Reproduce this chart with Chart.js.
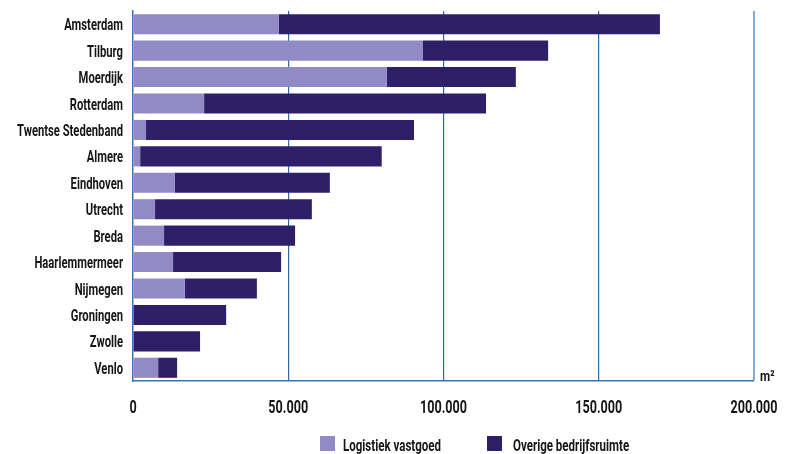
<!DOCTYPE html>
<html lang="nl">
<head>
<meta charset="utf-8">
<title>Bedrijfsruimte per regio</title>
<script src="https://cdn.jsdelivr.net/npm/chart.js@4/dist/chart.umd.min.js"></script>
<style>
  html, body { margin: 0; padding: 0; background: #ffffff; }
  #chart { display: block; }
</style>
</head>
<body>
<canvas id="chart" width="791" height="454"></canvas>
<script>
const categories = ['Amsterdam', 'Tilburg', 'Moerdijk', 'Rotterdam', 'Twentse Stedenband', 'Almere',
  'Eindhoven', 'Utrecht', 'Breda', 'Haarlemmermeer', 'Nijmegen', 'Groningen', 'Zwolle', 'Venlo'];
// m², per regio
const logistiekVastgoed = [47000, 93400, 81700, 22900, 4200, 2300, 13500, 7100, 10000, 12900, 16700, 0, 0, 8100];
const overigeBedrijfsruimte = [122700, 40300, 41600, 90800, 86300, 77800, 49900, 50500, 42200, 34800, 23200, 30000, 21600, 6100];
const xTicks = [0, 50000, 100000, 150000, 200000];
const seriesNames = ['Logistiek vastgoed', 'Overige bedrijfsruimte'];
const seriesColors = ['#918ac4', '#2e1f68'];

const FAMILY = "Roboto, 'DejaVu Sans Condensed', sans-serif";
const INK = '#151515';
const fmt = v => v.toLocaleString('nl-NL');

// Draw condensed text: the font is squeezed horizontally by sx.
function condensedText(ctx, text, x, y, align, sx, font) {
  ctx.save();
  ctx.font = font;
  ctx.fillStyle = INK;
  ctx.textAlign = align;
  ctx.textBaseline = 'alphabetic';
  ctx.scale(sx, 1);
  ctx.fillText(text, x / sx, y);
  ctx.restore();
}

const axisText = {
  id: 'axisText',
  afterDraw(chart) {
    const { ctx, chartArea, scales: { x, y } } = chart;
    // category labels
    categories.forEach((name, i) => {
      condensedText(ctx, name, chartArea.left - 10, y.getPixelForValue(i) + 6, 'right', 0.66, 'bold 17px ' + FAMILY);
    });
    // value ticks
    xTicks.forEach(v => {
      condensedText(ctx, fmt(v), x.getPixelForValue(v), chartArea.bottom + 32, 'center', 0.7, 'bold 18px ' + FAMILY);
    });
    // unit
    condensedText(ctx, 'm²', x.getPixelForValue(200000) + 6, chartArea.bottom, 'left', 0.78, 'bold 15px ' + FAMILY);
    // legend
    const legendX = [320, 487];
    const textX = [343, 513];
    seriesNames.forEach((name, i) => {
      ctx.save();
      ctx.fillStyle = seriesColors[i];
      ctx.fillRect(legendX[i], 436, 15, 15);
      ctx.restore();
      condensedText(ctx, name, textX[i], 451, 'left', 0.72, 'bold 16px ' + FAMILY);
    });
  }
};

new Chart(document.getElementById('chart'), {
  type: 'bar',
  data: {
    labels: categories,
    datasets: [
      { label: seriesNames[0], data: logistiekVastgoed, backgroundColor: seriesColors[0] },
      { label: seriesNames[1], data: overigeBedrijfsruimte, backgroundColor: seriesColors[1] }
    ]
  },
  options: {
    indexAxis: 'y',
    responsive: false,
    animation: false,
    categoryPercentage: 0.76,
    barPercentage: 1,
    layout: { padding: { top: 11, right: 37, left: 0, bottom: 0 } },
    plugins: { legend: { display: false }, tooltip: { enabled: false } },
    scales: {
      x: {
        stacked: true,
        min: 0, max: 200000,
        afterBuildTicks: s => { s.ticks = xTicks.map(v => ({ value: v })); },
        afterFit: s => { s.height = 73; },
        ticks: { display: false },
        grid: {
          drawTicks: false,
          color: c => c.tick && c.tick.value === 200000 ? '#86abd6' : (c.tick && c.tick.value === 0 ? 'rgba(0,0,0,0)' : '#2f69ab'),
          lineWidth: c => c.tick && c.tick.value === 200000 ? 2 : 1.2
        },
        border: { display: true, color: '#3a73b3', width: 1.5 }
      },
      y: {
        stacked: true,
        afterFit: s => { s.width = 133; },
        ticks: { display: false },
        grid: { display: false, drawTicks: false },
        border: { display: true, color: '#3a73b3', width: 1.5 }
      }
    }
  },
  plugins: [axisText]
});
</script>
</body>
</html>
